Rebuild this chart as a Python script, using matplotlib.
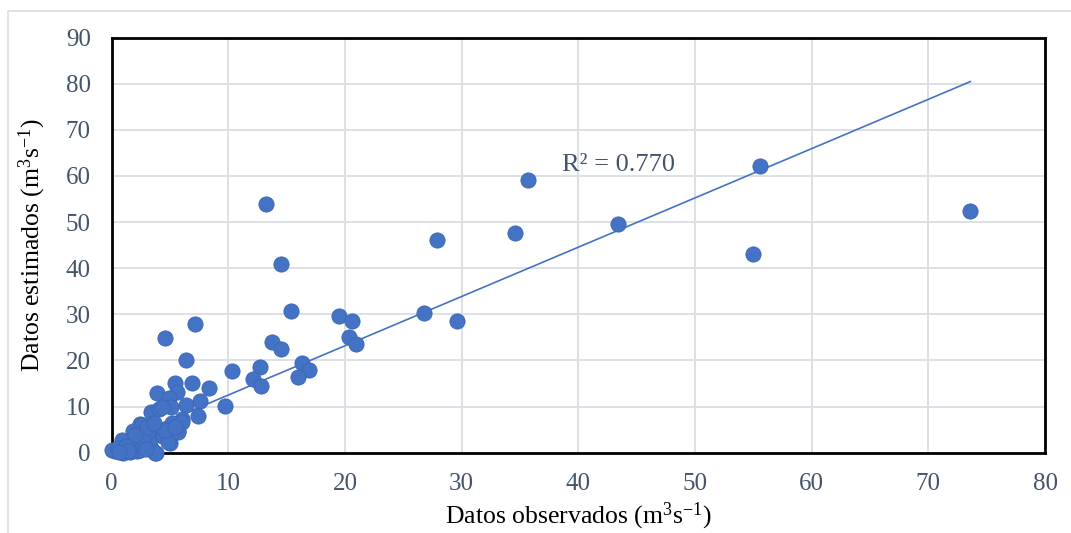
import numpy as np
import matplotlib
matplotlib.use("Agg")
import matplotlib.pyplot as plt
from matplotlib.patches import Rectangle

plt.rcParams["font.family"] = ["Liberation Serif", "DejaVu Serif"]
plt.rcParams["mathtext.fontset"] = "custom"
plt.rcParams["mathtext.rm"] = "Liberation Serif"
plt.rcParams["mathtext.it"] = "Liberation Serif:italic"

# ---------------- Data ----------------
observed = [
    73.6, 55.55, 55.0, 43.4, 35.7, 34.6, 27.9, 26.8, 29.6, 20.35,
    20.9, 19.5, 20.6, 16.35, 16.9, 15.98, 15.4, 14.5, 13.2, 13.7,
    14.5, 12.7, 12.07, 12.78, 10.27, 9.72, 8.35, 7.12, 4.55, 6.35,
    6.92, 5.4, 3.92, 5.6, 4.89, 5.12, 6.35, 7.55, 7.4, 3.34,
    4.03, 6.06, 5.26, 5.69, 2.4, 1.83, 3.1, 4.4, 4.97, 3.83,
    0.88, 0.26, 0.94, 2.2, 2.5, 3.4, 4.26, 1.85, 2.43, 2.57,
    3.28, 3.71, 3.14, 4.29, 4.43, 4.86, 5.14, 6.0, 5.71, 2.43,
    1.57, 0.0, 2.71, 4.57, 5.43, 2.0, 0.5, 1.2, 1.4, 0.6,
    2.9, 3.0, 3.6,
]
estimated = [
    52.3, 62.1, 43.1, 49.6, 59.1, 47.6, 46.1, 30.2, 28.5, 25.0,
    23.6, 29.7, 28.5, 19.4, 18.0, 16.5, 30.8, 41.0, 54.0, 23.9,
    22.5, 18.6, 16.0, 14.4, 17.6, 10.1, 14.0, 27.8, 24.9, 20.0,
    15.1, 15.2, 12.9, 13.1, 11.9, 9.9, 10.4, 11.1, 8.0, 8.7,
    9.5, 7.2, 6.3, 4.6, 6.1, 4.6, 3.9, 3.5, 2.1, 0.0,
    2.8, 0.3, 0.0, 0.3, 1.7, 1.0, 4.6, 2.0, 0.6, 6.0,
    2.7, 0.0, 4.5, 10.0, 3.5, 2.4, 6.4, 6.7, 4.5, 4.2,
    0.2, 0.5, 2.7, 4.9, 5.6, 3.8, 1.0, 1.5, 0.3, 0.1,
    0.8, 5.5, 6.5,
]

# linear trendline
trend_slope = 1.069
trend_intercept = 1.8
r2_label = "R² = 0.770"

x_ticks = [0, 10, 20, 30, 40, 50, 60, 70, 80]
y_ticks = [0, 10, 20, 30, 40, 50, 60, 70, 80, 90]

point_color = "#4472C4"
text_color = "#44546A"

# ---------------- Plot ----------------
fig = plt.figure(figsize=(10.71, 5.33), dpi=100)

# light outer chart border
fig.patches.append(Rectangle((8 / 1071, -0.1), 1.2, 1 - 11 / 533 + 0.1,
                             transform=fig.transFigure, fill=False,
                             edgecolor="#D9DDE3", linewidth=1.2))

ax = fig.add_axes([111.7 / 1071, 80.4 / 533, (1045 - 111.7) / 1071, (452.6 - 37.7) / 533])

ax.grid(True, color="#DDE1E7", linewidth=1.4)
ax.set_axisbelow(True)

tx = np.array([min(observed), max(observed)])
ax.plot(tx, trend_slope * tx + trend_intercept, color=point_color, linewidth=1.2, zorder=3)

ax.scatter(observed, estimated, s=120, color=point_color, edgecolors="#3A66B5",
           linewidths=0.6, zorder=4, clip_on=False)

ax.text(43.4, 62.4, r2_label, ha="center", va="center", fontsize=19, color=text_color)

ax.set_xlim(0, 80)
ax.set_ylim(0, 90)
ax.set_xticks(x_ticks)
ax.set_yticks(y_ticks)
ax.tick_params(axis="x", length=0, labelsize=18, labelcolor=text_color, pad=15)
ax.tick_params(axis="y", length=0, labelsize=18, labelcolor=text_color, pad=15)

for side in ["top", "bottom", "left", "right"]:
    ax.spines[side].set_color("black")
    ax.spines[side].set_linewidth(2)

ax.set_xlabel(r"Datos observados (m$^{3}$s$^{-1}$)", fontsize=18.5, labelpad=4)
ax.set_ylabel(r"Datos estimados (m$^{3}$s$^{-1}$)", fontsize=18.5, labelpad=13)

fig.savefig("out.png", dpi=100)
